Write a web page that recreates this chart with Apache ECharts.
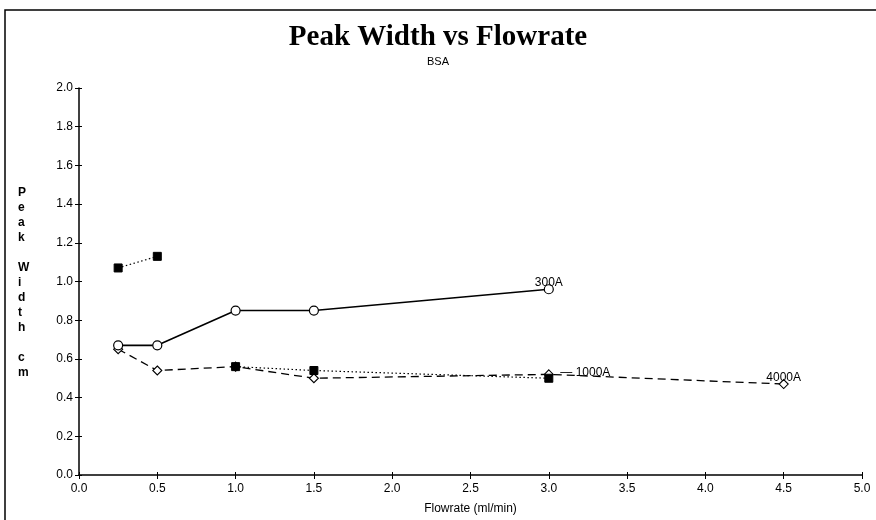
<!DOCTYPE html>
<html>
<head>
<meta charset="utf-8">
<script src="https://cdn.jsdelivr.net/npm/echarts@6/dist/echarts.min.js"></script>
<style>html,body{margin:0;padding:0;background:#fff}#c{width:876px;height:520px}</style>
</head>
<body>
<div id="c"></div>
<script>
const xTicks = [0.0, 0.5, 1.0, 1.5, 2.0, 2.5, 3.0, 3.5, 4.0, 4.5, 5.0];
const yTicks = [0.0, 0.2, 0.4, 0.6, 0.8, 1.0, 1.2, 1.4, 1.6, 1.8, 2.0];

const flow300 = [0.25, 0.5, 1.0, 1.5, 3.0];
const width300 = [0.67, 0.67, 0.85, 0.85, 0.96];

const flow1000a = [0.25, 0.5];
const width1000a = [1.07, 1.13];
const flow1000b = [1.0, 1.5, 3.0];
const width1000b = [0.56, 0.54, 0.50];

const flow4000 = [0.25, 0.5, 1.0, 1.5, 3.0, 4.5];
const width4000 = [0.65, 0.54, 0.56, 0.50, 0.52, 0.47];

const labels = ['300A', '1000A', '4000A'];

const chart = echarts.init(document.getElementById('c'), null, {renderer: 'canvas'});
const font = 'Liberation Sans, Arial, sans-serif';

function pts(xs, ys, endLabel, pos, offset) {
  return xs.map((x, i) => {
    const item = {value: [x, ys[i]]};
    if (endLabel && i === xs.length - 1) {
      item.label = {show: true, formatter: endLabel, position: pos, offset: offset,
        color: '#000', fontFamily: font, fontSize: 12};
    }
    return item;
  });
}

const axisCommon = {
  axisLine: {show: true, onZero: false, lineStyle: {color: '#000', width: 1.5}},
  splitLine: {show: false},
  axisLabel: {color: '#000', fontFamily: font, fontSize: 12,
    formatter: v => v.toFixed(1)}
};

chart.setOption({
  animation: false,
  backgroundColor: '#fff',
  title: [{
    text: 'Peak Width vs Flowrate', left: 'center', top: 18,
    textStyle: {fontFamily: 'Liberation Serif, Times New Roman, serif', fontWeight: 'bold', fontSize: 29, color: '#000'}
  }, {
    text: 'BSA', left: 'center', top: 51,
    textStyle: {fontFamily: font, fontWeight: 'normal', fontSize: 11, color: '#000'}
  }],
  grid: {left: 79, right: 14, top: 88, bottom: 42},
  xAxis: [{
    type: 'value', min: 0, max: 5, interval: 0.5,
    ...axisCommon,
    axisTick: {show: true, length: 4, inside: false, lineStyle: {color: '#000'}},
    name: 'Flowrate (ml/min)', nameLocation: 'middle', nameGap: 28,
    nameTextStyle: {color: '#000', fontFamily: font, fontSize: 12}
  }, {
    type: 'value', min: 0, max: 5, interval: 0.5, position: 'bottom',
    axisLine: {show: false}, splitLine: {show: false}, axisLabel: {show: false},
    axisTick: {show: true, inside: true, length: 3, lineStyle: {color: '#000'}}
  }],
  yAxis: [{
    type: 'value', min: 0, max: 2, interval: 0.2,
    ...axisCommon,
    axisTick: {show: true, length: 4, lineStyle: {color: '#000'}},
    axisLabel: {...axisCommon.axisLabel, margin: 6}
  }, {
    type: 'value', min: 0, max: 2, interval: 0.2, position: 'left',
    axisLine: {show: false}, splitLine: {show: false}, axisLabel: {show: false},
    axisTick: {show: true, inside: true, length: 3, lineStyle: {color: '#000'}}
  }],
  graphic: [{
    type: 'rect', shape: {x: 5, y: 10, width: 900, height: 600},
    style: {fill: 'none', stroke: '#000', lineWidth: 1.5}
  }, {
    type: 'text', left: 18, top: 185,
    style: {text: 'P\ne\na\nk\n\nW\ni\nd\nt\nh\n\nc\nm', fill: '#000',
      font: 'bold 12px Liberation Sans, Arial, sans-serif', lineHeight: 15, align: 'center'}
  }],
  series: [{
    name: labels[0], type: 'line', data: pts(flow300, width300, labels[0], 'top', [0, 10]),
    lineStyle: {color: '#000', width: 1.6, type: 'solid'},
    symbol: 'circle', symbolSize: 9, showAllSymbol: true,
    itemStyle: {color: '#fff', borderColor: '#000', borderWidth: 1.2}
  }, {
    name: labels[2], type: 'line', z: 2, data: pts(flow4000, width4000, labels[2], 'top', [0, 10]),
    lineStyle: {color: '#000', width: 1.3, type: [8, 5]},
    symbol: 'diamond', symbolSize: 9,
    itemStyle: {color: '#fff', borderColor: '#000', borderWidth: 1.1}
  }, {
    name: labels[1] + ' low', type: 'line', z: 3, data: pts(flow1000a, width1000a),
    lineStyle: {color: '#000', width: 1.2, type: [1.5, 2.5]},
    symbol: 'rect', symbolSize: 8,
    itemStyle: {color: '#000', borderColor: '#000'}
  }, {
    name: labels[1], type: 'line', z: 3, data: pts(flow1000b, width1000b, '— ' + labels[1], 'right', [2, -6]),
    lineStyle: {color: '#000', width: 1.2, type: [1.5, 2.5]},
    symbol: 'rect', symbolSize: 8,
    itemStyle: {color: '#000', borderColor: '#000'}
  }]
});
</script>
</body>
</html>
